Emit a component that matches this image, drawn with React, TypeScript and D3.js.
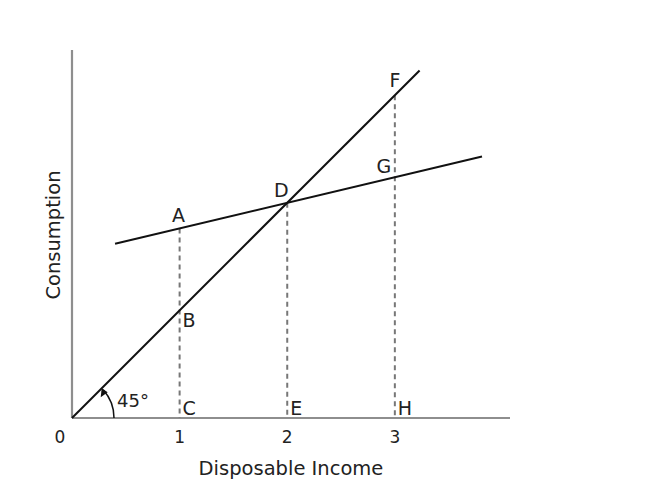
import React from "react";
import * as d3 from "d3";

// income ticks shown under the x axis
const incomeTicks = [0, 1, 2, 3];

// 45 degree line (income = consumption)
const fortyFiveIncome = [0, 3.23];
const fortyFiveConsumption = [0, 3.23];

// consumption function
const consIncome = [0.4, 3.81];
const consValues = [1.62, 2.43];

// dashed verticals: income, top of the line
const dropIncome = [1, 2, 3];
const dropTop = [1.76, 2, 3];

// point labels
const pointNames = ["A", "B", "D", "F", "G"];
const pointIncome = [1, 1, 2, 3, 3];
const pointConsumption = [1.76, 1, 2, 3, 2.24];

const axisNames = ["C", "E", "H"];
const axisIncome = [1, 2, 3];

const W = 653;
const H = 482;
const font = "'DejaVu Sans', sans-serif";

const App: React.FC = () => {
  const x = d3.scaleLinear().domain([0, 4.07]).range([72, 510]);
  const y = d3.scaleLinear().domain([0, 3.42]).range([418, 50]);

  const line = d3
    .line<[number, number]>()
    .x((d) => x(d[0]))
    .y((d) => y(d[1]));

  const fortyFive = fortyFiveIncome.map((v, i) => [v, fortyFiveConsumption[i]] as [number, number]);
  const consumption = consIncome.map((v, i) => [v, consValues[i]] as [number, number]);

  // little angle arc at the origin
  const ox = x(0);
  const oy = y(0);
  const r = 42;
  const arc = d3.path();
  arc.arc(ox, oy, r, 0, -Math.PI / 4 + 0.05, true);
  const tipA = -Math.PI / 4;
  const tx = ox + r * Math.cos(tipA);
  const ty = oy + r * Math.sin(tipA);

  // label offsets (dx, dy, anchor) for each point
  const pointOffsets: Record<string, [number, number, string]> = {
    A: [-1, -7, "middle"],
    B: [3, 17, "start"],
    D: [-6, -6, "middle"],
    F: [0, -8, "middle"],
    G: [-11, -4, "middle"],
  };

  return (
    <svg
      width={W}
      height={H}
      style={{ position: "absolute", left: 0, top: 0, background: "#fff" }}
    >
      {/* axes */}
      <line x1={x(0)} y1={y(0)} x2={x(4.07)} y2={y(0)} stroke="#8e8e8e" strokeWidth={2.2} />
      <line x1={x(0)} y1={y(0)} x2={x(0)} y2={y(3.42)} stroke="#8e8e8e" strokeWidth={2.2} />

      {/* dashed drop lines */}
      {dropIncome.map((v, i) => (
        <line
          key={"d" + i}
          x1={x(v)}
          x2={x(v)}
          y1={y(dropTop[i])}
          y2={y(0)}
          stroke="#777"
          strokeWidth={2}
          strokeDasharray="5,4"
        />
      ))}

      {/* lines */}
      <path d={line(fortyFive) || ""} fill="none" stroke="#111" strokeWidth={2} />
      <path d={line(consumption) || ""} fill="none" stroke="#111" strokeWidth={2} />

      {/* 45 degree arc */}
      <path d={arc.toString()} fill="none" stroke="#111" strokeWidth={1.5} />
      <path
        d={`M${tx},${ty} L${tx - 1},${ty + 9} L${tx + 6},${ty + 4} Z`}
        fill="#111"
      />
      <text x={117} y={407} fontFamily={font} fontSize={18} fill="#222">
        45°
      </text>

      {/* point labels */}
      {pointNames.map((n, i) => {
        const [dx, dy, anchor] = pointOffsets[n];
        return (
          <text
            key={n}
            x={x(pointIncome[i]) + dx}
            y={y(pointConsumption[i]) + dy}
            textAnchor={anchor as any}
            fontFamily={font}
            fontSize={19}
            fill="#222"
          >
            {n}
          </text>
        );
      })}
      {axisNames.map((n, i) => (
        <text
          key={n}
          x={x(axisIncome[i]) + 3}
          y={y(0) - 3}
          fontFamily={font}
          fontSize={19}
          fill="#222"
        >
          {n}
        </text>
      ))}

      {/* tick labels */}
      {incomeTicks.map((t) => (
        <text
          key={t}
          x={t === 0 ? x(0) - 12 : x(t)}
          y={y(0) + 25}
          textAnchor="middle"
          fontFamily={font}
          fontSize={17}
          fill="#222"
        >
          {t}
        </text>
      ))}

      {/* axis titles */}
      <text
        x={291}
        y={475}
        textAnchor="middle"
        fontFamily={font}
        fontSize={19.5}
        fill="#222"
      >
        Disposable Income
      </text>
      <text
        transform="translate(60,235) rotate(-90)"
        textAnchor="middle"
        fontFamily={font}
        fontSize={19.5}
        fill="#222"
      >
        Consumption
      </text>
    </svg>
  );
};

export default App;
